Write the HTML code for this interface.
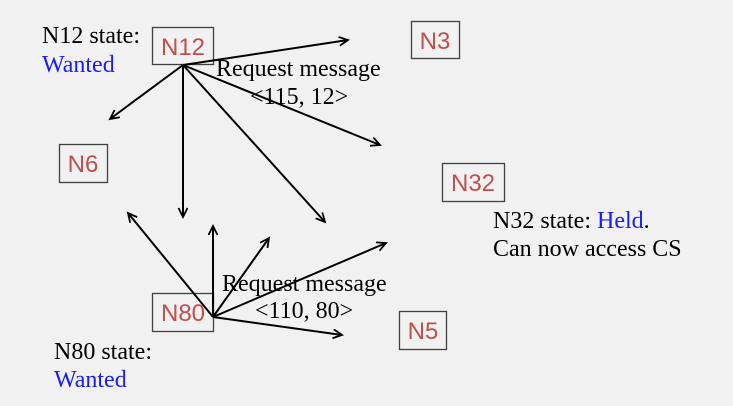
<!DOCTYPE html>
<html><head><style>html,body{margin:0;padding:0;background:#f1f1f1;}svg{display:block}</style></head>
<body>
<svg width="733" height="406" xmlns="http://www.w3.org/2000/svg">
<defs><marker id="a" markerWidth="12" markerHeight="12" refX="10" refY="5" orient="auto" markerUnits="userSpaceOnUse"><path d="M1,0.5 L10,5 L1,9.5" fill="none" stroke="#000" stroke-width="1.8"/></marker></defs>
<rect width="733" height="406" fill="#f1f1f1"/>
<g fill="none" stroke="#404040" stroke-width="1.3">
<rect x="152.5" y="27.5" width="61" height="37"/>
<rect x="411.5" y="21.5" width="48" height="37"/>
<rect x="59.5" y="144.5" width="48" height="38"/>
<rect x="442.5" y="163.5" width="62" height="38"/>
<rect x="152.5" y="293.5" width="61" height="38"/>
<rect x="399.5" y="311.5" width="47" height="38"/>
</g>
<g font-family="Liberation Sans, sans-serif" font-size="24" fill="#c0504d" text-anchor="middle">
<text x="183" y="55">N12</text>
<text x="435" y="49">N3</text>
<text x="83" y="172">N6</text>
<text x="473" y="191">N32</text>
<text x="183" y="321">N80</text>
<text x="423" y="339">N5</text>
</g>
<g stroke="#000" stroke-width="2" marker-end="url(#a)" fill="none">
<line x1="183" y1="65" x2="348" y2="40"/>
<line x1="183" y1="65" x2="110" y2="119"/>
<line x1="183" y1="65" x2="183" y2="217"/>
<line x1="183" y1="65" x2="325" y2="222"/>
<line x1="183" y1="65" x2="380" y2="145"/>
<line x1="213" y1="317" x2="128" y2="213"/>
<line x1="213" y1="317" x2="213" y2="226"/>
<line x1="213" y1="317" x2="269" y2="238"/>
<line x1="213" y1="317" x2="386" y2="243"/>
<line x1="213" y1="317" x2="342" y2="335"/>
</g>
<g font-family="Liberation Serif, serif" font-size="24" fill="#000">
<text x="42" y="43">N12 state:</text>
<text x="42" y="72" fill="#1a1aff">Wanted</text>
<text x="216" y="76">Request message</text>
<text x="250" y="104">&lt;115, 12&gt;</text>
<text x="222" y="291">Request message</text>
<text x="255" y="318">&lt;110, 80&gt;</text>
<text x="54" y="359">N80 state:</text>
<text x="54" y="387" fill="#1a1aff">Wanted</text>
<text x="493" y="228">N32 state: <tspan fill="#1a1aff">Held</tspan>.</text>
<text x="493" y="256">Can now access CS</text>
</g>
</svg>
</body></html>
